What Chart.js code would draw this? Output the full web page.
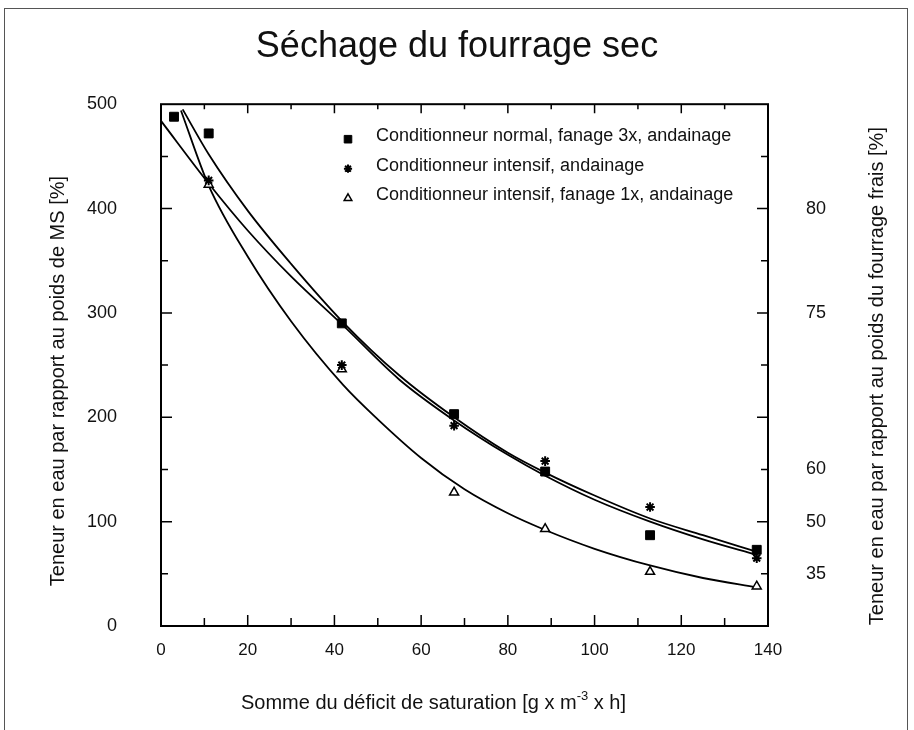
<!DOCTYPE html>
<html>
<head>
<meta charset="utf-8">
<title>Séchage du fourrage sec</title>
<script src="https://cdn.jsdelivr.net/npm/chart.js@4.4.1/dist/chart.umd.min.js"></script>
<style>
  html, body { margin: 0; padding: 0; background: #fff; }
  #wrap { position: relative; width: 914px; height: 730px; overflow: hidden; }
  #frame {
    position: absolute; left: 4px; top: 8px; width: 904px; height: 740px;
    border: 1px solid #555; border-bottom: none; box-sizing: border-box;
  }
  canvas { position: absolute; left: 0; top: 0; }
</style>
</head>
<body>
<div id="wrap">
  <div id="frame"></div>
  <canvas id="chart" width="914" height="730"></canvas>
</div>
<script>
'use strict';

// --- data ---
const chartTitle = 'Séchage du fourrage sec';
const leftAxisTitle = 'Teneur en eau par rapport au poids de MS [%]';
const rightAxisTitle = 'Teneur en eau par rapport au poids du fourrage frais [%]';
const bottomAxisTitle = ['Somme du déficit de saturation [g x m', '-3', ' x h]'];

const seriesLabels = [
    'Conditionneur normal, fanage 3x, andainage',
    'Conditionneur intensif, andainage',
    'Conditionneur intensif, fanage 1x, andainage'
];

// measured points
const normalX = [3, 11, 41.7, 67.6, 88.6, 112.8, 137.4];
const normalY = [488, 472, 290, 203, 148, 87, 73];
const intensifX = [11, 41.7, 67.6, 88.6, 112.8, 137.4];
const intensifY = [427, 250, 192, 158, 114, 65];
const fanageX = [11, 41.7, 67.6, 88.6, 112.8, 137.4];
const fanageY = [423, 246, 128, 93, 52, 38];

// fitted curves
const fitNormalX = [5, 11, 20, 30, 42, 55, 67.6, 80, 88.6, 100, 112.8, 125, 137.5];
const fitNormalY = [495, 452, 398, 347, 291, 240, 200, 166, 147, 125, 103, 87, 71];
const fitIntensifX = [0, 11, 20, 30, 42, 55, 67.6, 80, 88.6, 100, 112.8, 125, 137.5];
const fitIntensifY = [484, 424, 379, 335, 288, 236, 197, 164, 144, 121, 100, 83, 68];
const fitFanageX = [4.6, 11, 20, 30, 42, 50, 60, 70, 80, 88.6, 100, 112.8, 125, 137.5];
const fitFanageY = [494, 422, 354, 292, 231, 198, 161, 131, 108, 92, 74, 58, 46, 37];

// right axis: % of fresh matter, placed at the matching DM values
const rightTickValues = [50, 100, 150, 300, 400];
const rightTickLabels = ['35', '50', '60', '75', '80'];

const toPoints = (xs, ys) => xs.map((x, i) => ({ x: x, y: ys[i] }));

Chart.defaults.font.family = "'Liberation Sans', Arial, Helvetica, sans-serif";
Chart.defaults.color = '#111';

// frame of the plot with inward tick marks, plus axis titles and legend
const framePlugin = {
    id: 'framePlugin',
    afterDatasetsDraw(chart) {
        const { ctx, chartArea: a, scales } = chart;
        ctx.save();
        ctx.strokeStyle = '#000';
        ctx.lineWidth = 2;
        ctx.strokeRect(a.left, a.top, a.right - a.left, a.bottom - a.top);

        ctx.lineWidth = 1.5;
        ctx.beginPath();
        scales.x.ticks.forEach(t => {
            if (t.value <= scales.x.min || t.value >= scales.x.max) return;
            const px = scales.x.getPixelForValue(t.value);
            const major = t.value % 20 === 0;
            ctx.moveTo(px, a.bottom);
            ctx.lineTo(px, a.bottom - (major ? 11 : 8));
            ctx.moveTo(px, a.top);
            ctx.lineTo(px, a.top + (major ? 9 : 5));
        });
        scales.y.ticks.forEach(t => {
            if (t.value <= scales.y.min || t.value >= scales.y.max) return;
            const py = scales.y.getPixelForValue(t.value);
            const major = t.value % 100 === 0;
            ctx.moveTo(a.left, py);
            ctx.lineTo(a.left + (major ? 11 : 7), py);
        });
        scales.y2.ticks.forEach(t => {
            if (t.value <= scales.y2.min || t.value >= scales.y2.max) return;
            const py = scales.y2.getPixelForValue(t.value);
            const major = t.value % 100 === 0;
            ctx.moveTo(a.right, py);
            ctx.lineTo(a.right - (major ? 11 : 7), py);
        });
        ctx.stroke();
        ctx.restore();
    },
    afterDraw(chart) {
        const { ctx, chartArea: a } = chart;
        const midY = (a.top + a.bottom) / 2;
        const midX = (a.left + a.right) / 2;
        ctx.save();
        ctx.fillStyle = '#111';
        ctx.font = "20px 'Liberation Sans', Arial, sans-serif";
        ctx.textAlign = 'center';
        ctx.textBaseline = 'middle';

        // left axis title
        ctx.save();
        ctx.translate(a.left - 103, midY + 16);
        ctx.rotate(-Math.PI / 2);
        ctx.fillText(leftAxisTitle, 0, 0);
        ctx.restore();

        // right axis title, reads bottom to top like the left one
        ctx.save();
        ctx.translate(a.right + 109, midY + 11);
        ctx.rotate(-Math.PI / 2);
        ctx.fillText(rightAxisTitle, 0, 0);
        ctx.restore();

        // bottom axis title with superscript
        const supFont = "13px 'Liberation Sans', Arial, sans-serif";
        const mainFont = "20px 'Liberation Sans', Arial, sans-serif";
        ctx.font = mainFont;
        const w0 = ctx.measureText(bottomAxisTitle[0]).width;
        const w2 = ctx.measureText(bottomAxisTitle[2]).width;
        ctx.font = supFont;
        const w1 = ctx.measureText(bottomAxisTitle[1]).width;
        let x = midX - 31 - (w0 + w1 + w2) / 2;
        const y = a.bottom + 77;
        ctx.textAlign = 'left';
        ctx.font = mainFont;
        ctx.fillText(bottomAxisTitle[0], x, y);
        x += w0;
        ctx.font = supFont;
        ctx.fillText(bottomAxisTitle[1], x, y - 7);
        x += w1;
        ctx.font = mainFont;
        ctx.fillText(bottomAxisTitle[2], x, y);

        // legend
        const lx = a.left + 187;
        let ly = a.top + 32;
        ctx.font = "18px 'Liberation Sans', Arial, sans-serif";
        chart.data.datasets.forEach(ds => {
            if (!ds.inLegend) return;
            ctx.fillStyle = ds.backgroundColor;
            ctx.strokeStyle = ds.borderColor;
            ctx.lineWidth = ds.borderWidth;
            Chart.helpers.drawPoint(ctx, {
                pointStyle: ds.pointStyle,
                radius: ds.pointRadius * 0.85,
                rotation: 0,
                borderWidth: ds.borderWidth
            }, lx, ly + 3);
            ctx.fillStyle = '#111';
            ctx.fillText(ds.label, lx + 28, ly);
            ly += 29.5;
        });
        ctx.restore();
    }
};

const lineStyle = {
    showLine: true,
    pointRadius: 0,
    pointHoverRadius: 0,
    borderColor: '#000',
    borderWidth: 1.8,
    cubicInterpolationMode: 'monotone',
    fill: false
};

new Chart(document.getElementById('chart'), {
    type: 'scatter',
    data: {
        datasets: [
            {
                label: seriesLabels[0],
                inLegend: true,
                data: toPoints(normalX, normalY),
                pointStyle: 'rect',
                pointRadius: 6.3,
                backgroundColor: '#000',
                borderColor: '#000',
                borderWidth: 1
            },
            {
                label: seriesLabels[1],
                inLegend: true,
                data: toPoints(intensifX, intensifY),
                pointStyle: 'star',
                pointRadius: 4.8,
                backgroundColor: '#000',
                borderColor: '#000',
                borderWidth: 2
            },
            {
                label: seriesLabels[2],
                inLegend: true,
                data: toPoints(fanageX, fanageY),
                pointStyle: 'triangle',
                pointRadius: 5.2,
                backgroundColor: '#fff',
                borderColor: '#000',
                borderWidth: 1.5
            },
            { label: 'fit normal', data: toPoints(fitNormalX, fitNormalY), ...lineStyle },
            { label: 'fit intensif', data: toPoints(fitIntensifX, fitIntensifY), ...lineStyle },
            { label: 'fit fanage', data: toPoints(fitFanageX, fitFanageY), ...lineStyle }
        ]
    },
    options: {
        responsive: false,
        animation: false,
        devicePixelRatio: 1,
        layout: { padding: { left: 0, right: 0, top: 0, bottom: 0 } },
        plugins: {
            legend: { display: false },
            tooltip: { enabled: false },
            title: {
                display: true,
                text: chartTitle,
                color: '#111',
                font: { size: 36, weight: 'normal' },
                padding: { top: 25, bottom: 36 }
            }
        },
        scales: {
            x: {
                type: 'linear',
                position: 'bottom',
                min: 0,
                max: 140,
                grid: { display: false, drawTicks: false },
                border: { display: false },
                ticks: {
                    stepSize: 10,
                    autoSkip: false,
                    maxRotation: 0,
                    padding: 14,
                    font: { size: 17 },
                    callback: v => (v % 20 === 0 ? v : '')
                },
                afterFit: s => { s.height = 104; }
            },
            y: {
                type: 'linear',
                position: 'left',
                min: 0,
                max: 500,
                grid: { display: false, drawTicks: false },
                border: { display: false },
                ticks: {
                    stepSize: 50,
                    autoSkip: false,
                    padding: 44,
                    font: { size: 18 },
                    callback: v => (v % 100 === 0 ? v : '')
                },
                afterFit: s => { s.width = 161; }
            },
            y2: {
                type: 'linear',
                position: 'right',
                min: 0,
                max: 500,
                grid: { display: false, drawTicks: false },
                border: { display: false },
                ticks: {
                    stepSize: 50,
                    autoSkip: false,
                    padding: 38,
                    font: { size: 18 },
                    callback: v => {
                        const i = rightTickValues.indexOf(v);
                        return i >= 0 ? rightTickLabels[i] : '';
                    }
                },
                afterFit: s => { s.width = 146; }
            }
        }
    },
    plugins: [framePlugin]
});
</script>
</body>
</html>
